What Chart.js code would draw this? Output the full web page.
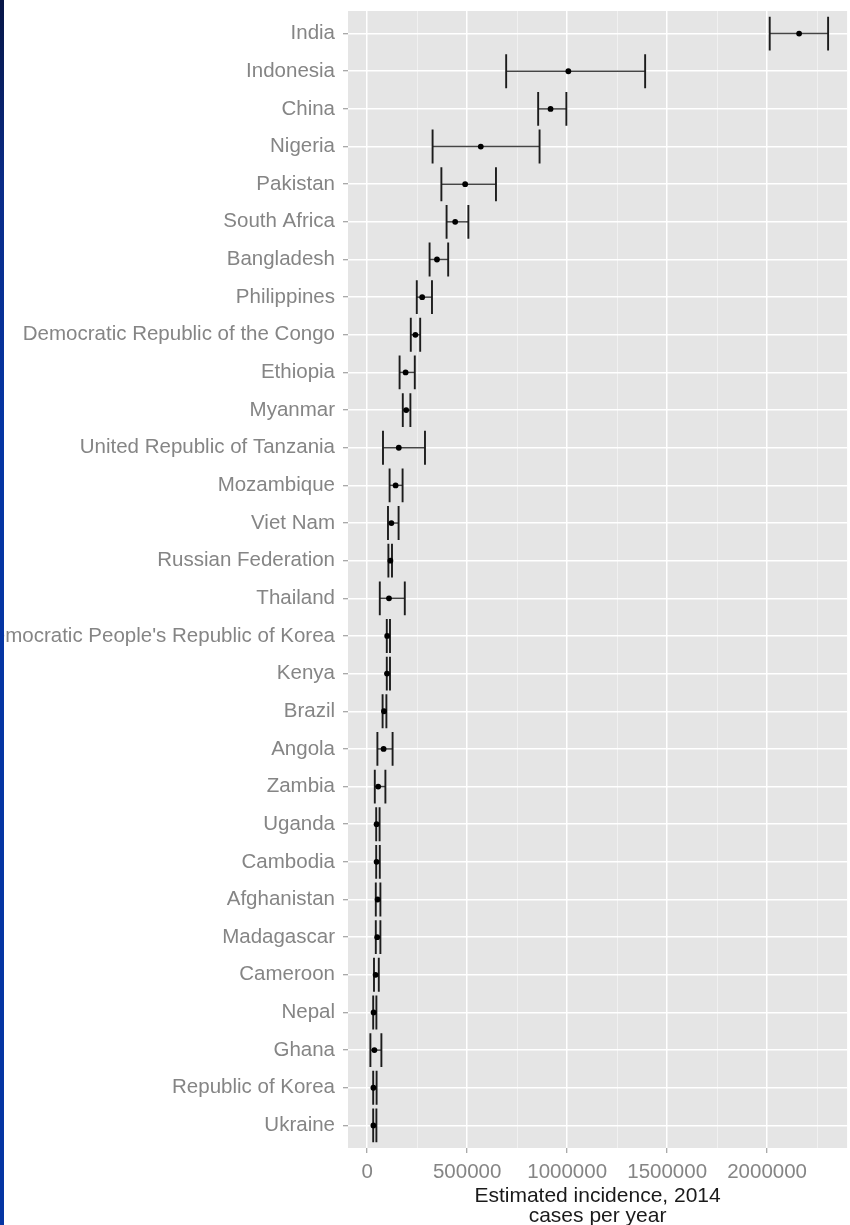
<!DOCTYPE html>
<html>
<head>
<meta charset="utf-8">
<title>Estimated TB incidence, 2014</title>
<script src="https://cdn.jsdelivr.net/npm/chart.js@4.4.1/dist/chart.umd.min.js"></script>
<style>
  html, body { margin: 0; padding: 0; background: #ffffff; }
  #wrap { position: relative; width: 850px; height: 1225px; overflow: hidden; }
  #edge {
    position: absolute; left: 0; top: 0; width: 4px; height: 1225px; z-index: 2;
    background: linear-gradient(#071646 0%, #0a2c88 15%, #0535a3 35%, #0535a3 100%);
  }
  canvas { position: absolute; left: 0; top: 0; }
</style>
</head>
<body>
<div id="wrap">
  <div id="edge"></div>
  <canvas id="chart" width="850" height="1225"></canvas>
</div>
<script>
// Countries, top to bottom
const countries = [
  "India", "Indonesia", "China", "Nigeria", "Pakistan", "South Africa",
  "Bangladesh", "Philippines", "Democratic Republic of the Congo", "Ethiopia",
  "Myanmar", "United Republic of Tanzania", "Mozambique", "Viet Nam",
  "Russian Federation", "Thailand", "Democratic People's Republic of Korea",
  "Kenya", "Brazil", "Angola", "Zambia", "Uganda", "Cambodia", "Afghanistan",
  "Madagascar", "Cameroon", "Nepal", "Ghana", "Republic of Korea", "Ukraine"
];

// Best estimate, cases per year
const incidence = [
  2160000, 1006000, 917000, 568000, 490000, 440000,
  349000, 275000, 241000, 192000,
  195000, 158000, 142000, 121000,
  116000, 109000, 100000,
  99000, 84000, 82000, 55000, 47000, 47000, 52000,
  50000, 42000, 32000, 36000, 31000, 31000
];

// Uncertainty interval, low bound
const lowerBound = [
  2013000, 695000, 855000, 327000, 371000, 397000,
  312000, 248000, 218000, 162000,
  178000, 79000, 112000, 104000,
  106000, 63000, 98000,
  98000, 77000, 51000, 38000, 45000, 45000, 43000,
  43000, 34000, 30000, 16000, 30000, 30000
];

// Uncertainty interval, high bound
const upperBound = [
  2305000, 1390000, 996000, 862000, 644000, 506000,
  405000, 324000, 265000, 238000,
  216000, 289000, 177000, 157000,
  124000, 188000, 114000,
  114000, 96000, 127000, 91000, 62000, 63000, 66000,
  66000, 58000, 46000, 71000, 47000, 46000
];

// Horizontal axis ticks
const xTickValues = [0, 500000, 1000000, 1500000, 2000000];
const xTickLabels = ["0", "500000", "1000000", "1500000", "2000000"];
const xMinorValues = [250000, 750000, 1250000, 1750000, 2250000];
const xTitle = ["Estimated incidence, 2014", "cases per year"];

const FONT = '"Liberation Sans", Arial, "DejaVu Sans", sans-serif';
const LABEL_GREY = '#858585';
const isMajor = v => xTickValues.includes(v);

// grey panel behind the grid
const panelBackground = {
  id: 'panelBackground',
  beforeDraw(chart) {
    const { ctx, chartArea: a } = chart;
    ctx.save();
    ctx.fillStyle = '#e5e5e5';
    ctx.fillRect(a.left, a.top, a.right - a.left, a.bottom - a.top);
    ctx.restore();
  }
};

// interval bars with end caps
const intervalBars = {
  id: 'intervalBars',
  beforeDatasetsDraw(chart) {
    const { ctx, chartArea: a, scales: { x, y } } = chart;
    const cap = Math.abs(y.getPixelForValue(1) - y.getPixelForValue(0)) * 0.9;
    ctx.save();
    ctx.beginPath();
    ctx.rect(a.left, a.top, a.right - a.left, a.bottom - a.top);
    ctx.clip();
    countries.forEach((name, i) => {
      const py = y.getPixelForValue(i);
      const x0 = x.getPixelForValue(lowerBound[i]);
      const x1 = x.getPixelForValue(upperBound[i]);
      ctx.strokeStyle = '#454545';
      ctx.lineWidth = 1.5;
      ctx.beginPath();
      ctx.moveTo(x0, py);
      ctx.lineTo(x1, py);
      ctx.stroke();
      ctx.strokeStyle = '#1c1c1c';
      ctx.lineWidth = 1.9;
      ctx.beginPath();
      ctx.moveTo(x0, py - cap / 2);
      ctx.lineTo(x0, py + cap / 2);
      ctx.moveTo(x1, py - cap / 2);
      ctx.lineTo(x1, py + cap / 2);
      ctx.stroke();
    });
    ctx.restore();
  }
};

new Chart(document.getElementById('chart'), {
  type: 'scatter',
  data: {
    datasets: [{
      label: 'Estimated incidence',
      data: incidence.map((v, i) => ({ x: v, y: i })),
      pointRadius: 2.9,
      pointBackgroundColor: '#000000',
      pointBorderWidth: 0,
      pointHoverRadius: 2.9
    }]
  },
  options: {
    responsive: false,
    animation: false,
    devicePixelRatio: 1,
    layout: { padding: { top: 11, left: 0, right: 0, bottom: 0 } },
    plugins: { legend: { display: false }, tooltip: { enabled: false } },
    scales: {
      x: {
        type: 'linear',
        min: -96000,
        max: 2400000,
        afterBuildTicks: s => {
          s.ticks = [...xTickValues, ...xMinorValues].sort((a, b) => a - b).map(v => ({ value: v }));
        },
        afterFit: s => {
          s.height = 77;
          s.paddingLeft = 0;
          s.paddingRight = 0;
        },
        border: { display: false },
        grid: {
          color: c => (c.tick && isMajor(c.tick.value)) ? '#ffffff' : '#f4f4f4',
          lineWidth: c => (c.tick && isMajor(c.tick.value)) ? 1.5 : 0.8,
          drawTicks: true,
          tickLength: 5,
          tickWidth: 1,
          tickColor: c => (c.tick && isMajor(c.tick.value)) ? '#8c8c8c' : 'rgba(0,0,0,0)'
        },
        ticks: {
          autoSkip: false,
          maxRotation: 0,
          padding: 7,
          color: LABEL_GREY,
          font: { family: FONT, size: 20.5 },
          callback: v => {
            const k = xTickValues.indexOf(v);
            return k >= 0 ? xTickLabels[k] : '';
          }
        },
        title: {
          display: true,
          text: xTitle,
          color: '#1a1a1a',
          font: { family: FONT, size: 21, lineHeight: 0.95 },
          padding: { top: 0, bottom: -1.5 }
        }
      },
      y: {
        type: 'linear',
        reverse: true,
        min: -0.6,
        max: countries.length - 0.4,
        afterBuildTicks: s => { s.ticks = countries.map((_, i) => ({ value: i })); },
        afterFit: s => {
          s.width = 348;
          s.paddingTop = 0;
          s.paddingBottom = 0;
        },
        border: { display: false },
        grid: {
          color: '#ffffff',
          lineWidth: 1.5,
          drawTicks: true,
          tickLength: 5,
          tickWidth: 1,
          tickColor: '#8c8c8c'
        },
        ticks: {
          autoSkip: false,
          padding: 8,
          color: LABEL_GREY,
          font: { family: FONT, size: 20.5 },
          callback: v => countries[v] ?? ''
        }
      }
    }
  },
  plugins: [panelBackground, intervalBars]
});
</script>
</body>
</html>
